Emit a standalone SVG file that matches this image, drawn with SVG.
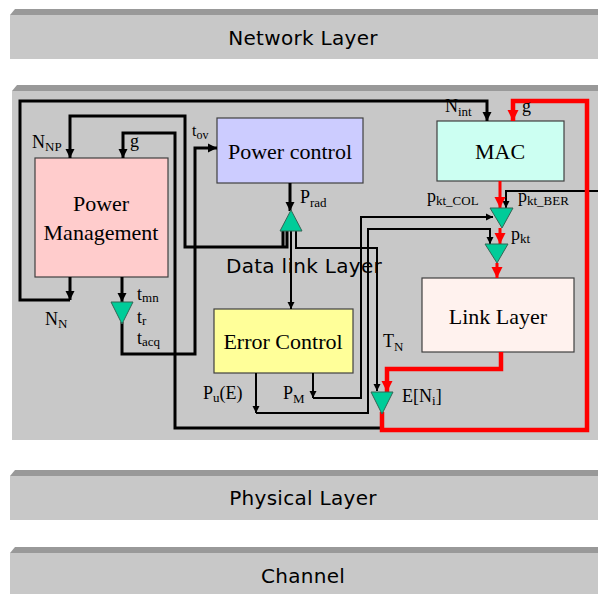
<svg xmlns="http://www.w3.org/2000/svg" width="598" height="594" viewBox="0 0 598 594">
<defs>
<style>
.bar{fill:#c8c8c8}
.band{fill:#999999}
.lt{font-family:"DejaVu Sans",sans-serif;font-size:20px;letter-spacing:0.3px;fill:#000;text-anchor:middle}
.bx{stroke:#404040;stroke-width:1.2}
.bt{font-family:"Liberation Serif",serif;font-size:22px;fill:#000;text-anchor:middle}
.lb{font-family:"Liberation Serif",serif;font-size:18px;fill:#000}
.sb{font-size:13px}
.w{fill:none;stroke:#000;stroke-width:3}
.wt{fill:none;stroke:#000;stroke-width:2}
.r{fill:none;stroke:#ff0000;stroke-width:4.5}
.rt{fill:none;stroke:#ff0000;stroke-width:3}
.tri{fill:#00cc99;stroke:#336655;stroke-width:1}
</style>
<marker id="ab" markerUnits="userSpaceOnUse" markerWidth="10" markerHeight="10" refX="9" refY="5" orient="auto"><path d="M0,0.5 L9,5 L0,9.5 z" fill="#000"/></marker>
<marker id="as" markerUnits="userSpaceOnUse" markerWidth="8" markerHeight="8" refX="7" refY="4" orient="auto"><path d="M0,0.5 L7,4 L0,7.5 z" fill="#000"/></marker>
<marker id="ar" markerUnits="userSpaceOnUse" markerWidth="12" markerHeight="12" refX="11" refY="6" orient="auto"><path d="M0,0.5 L11,6 L0,11.5 z" fill="#ff0000"/></marker>
</defs>
<rect width="598" height="594" fill="#fff"/>
<g id="network-layer">
<polygon class="band" points="10,15 15,9 598,9 598,15"/>
<rect class="bar" x="10" y="15" width="588" height="44"/>
<text class="lt" x="303" y="45">Network Layer</text>
</g>
<g id="datalink-layer">
<polygon class="band" points="12,91 17,85 598,85 598,91"/>
<rect class="bar" x="12" y="91" width="586" height="349"/>
<text class="lt" x="304" y="273">Data link Layer</text>
</g>
<g id="physical-layer">
<polygon class="band" points="10,476 15,470 598,470 598,476"/>
<rect class="bar" x="10" y="476" width="588" height="44"/>
<text class="lt" x="303" y="505">Physical Layer</text>
</g>
<g id="channel">
<polygon class="band" points="10,553 15,547 598,547 598,553"/>
<rect class="bar" x="10" y="553" width="588" height="41"/>
<text class="lt" x="303" y="583">Channel</text>
</g>
<g id="power-management">
<rect class="bx" x="35" y="158" width="133" height="119" fill="#ffcccc"/>
<text class="bt" x="101" y="211">Power</text>
<text class="bt" x="101" y="240">Management</text>
</g>
<g id="power-control">
<rect class="bx" x="217" y="118" width="146" height="65" fill="#ccccff"/>
<text class="bt" x="290" y="159">Power control</text>
</g>
<g id="mac">
<rect class="bx" x="437" y="121" width="127" height="60" fill="#ccfff2"/>
<text class="bt" x="500" y="159">MAC</text>
</g>
<g id="error-control">
<rect class="bx" x="214" y="309" width="139" height="64" fill="#ffff99"/>
<text class="bt" x="283" y="349">Error Control</text>
</g>
<g id="link-layer">
<rect class="bx" x="422" y="278" width="152" height="74" fill="#fff2ee"/>
<text class="bt" x="498" y="324">Link Layer</text>
</g>
<g id="connectors">
<path class="w" d="M70,277 V300" marker-end="url(#ab)"/>
<path class="w" d="M70,300 H20 V101 H487 V121" marker-end="url(#ab)"/>
<path class="w" d="M287,231 V247 H185 V116 H70 V158" marker-end="url(#ab)"/>
<path class="w" d="M283,231 V247"/>
<path class="w" d="M382,428 H175 V133 H123 V158" marker-end="url(#ab)"/>
<path class="w" d="M122,277 V302" marker-end="url(#ab)"/>
<path class="w" d="M122,322 V354 H195 V148 H217" marker-end="url(#ab)"/>
<path class="w" d="M290,183 V211" marker-end="url(#ab)"/>
<path class="wt" d="M291,231 V309" marker-end="url(#as)"/>
<path class="wt" d="M296,231 V248 H377 V391" marker-end="url(#as)"/>
<path class="wt" d="M313,373 V398" marker-end="url(#as)"/>
<path class="wt" d="M313,398 H361 V217 H493" marker-end="url(#as)"/>
<path class="wt" d="M256,373 V413" marker-end="url(#as)"/>
<path class="wt" d="M256,413 H368 V229 H490 V244" marker-end="url(#as)"/>
<path class="wt" d="M598,191 H506 V208" marker-end="url(#as)"/>
<path class="rt" d="M500,181 V208" marker-end="url(#ar)"/>
<path class="rt" d="M500,228 V244" marker-end="url(#ar)"/>
<path class="rt" d="M497,263 V278" marker-end="url(#ar)"/>
<path class="r" d="M501,352 V369 H387 V392" marker-end="url(#ar)"/>
<path class="r" d="M382,412 V430 H587 V101 H513 V121" marker-end="url(#ar)"/>
</g>
<g id="triangles">
<polygon class="tri" points="111,302 133,302 122,324"/>
<polygon class="tri" points="291,210 280,231 302,231"/>
<polygon class="tri" points="490,208 513,208 502,228"/>
<polygon class="tri" points="485,244 508,244 497,263"/>
<polygon class="tri" points="371,392 393,392 382,414"/>
</g>
<g id="labels">
<text class="lb" x="32" y="148">N<tspan class="sb" dy="3">NP</tspan></text>
<text class="lb" x="130" y="147">g</text>
<text class="lb" x="192" y="136" style="font-size:16px">t<tspan class="sb" dy="3" style="font-size:12px">ov</tspan></text>
<text class="lb" x="300" y="203">P<tspan class="sb" dy="4">rad</tspan></text>
<text class="lb" x="445" y="112">N<tspan class="sb" dy="4">int</tspan></text>
<text class="lb" x="522" y="112">g</text>
<text class="lb" x="427" y="202">p<tspan class="sb" dy="3">kt_COL</tspan></text>
<text class="lb" x="518" y="202">p<tspan class="sb" dy="3">kt_BER</tspan></text>
<text class="lb" x="511" y="240">p<tspan class="sb" dy="3">kt</tspan></text>
<text class="lb" x="137" y="300">t<tspan class="sb" dy="2">mn</tspan></text>
<text class="lb" x="137" y="323">t<tspan class="sb" dy="2">r</tspan></text>
<text class="lb" x="137" y="344">t<tspan class="sb" dy="2">acq</tspan></text>
<text class="lb" x="45" y="325">N<tspan class="sb" dy="3">N</tspan></text>
<text class="lb" x="383" y="347">T<tspan class="sb" dy="4">N</tspan></text>
<text class="lb" x="402" y="402">E[N<tspan class="sb" dy="3">i</tspan><tspan dy="-3">]</tspan></text>
<text class="lb" x="203" y="399">P<tspan class="sb" dy="3">u</tspan><tspan dy="-3">(E)</tspan></text>
<text class="lb" x="283" y="399">P<tspan class="sb" dy="4">M</tspan></text>
</g>
</svg>
